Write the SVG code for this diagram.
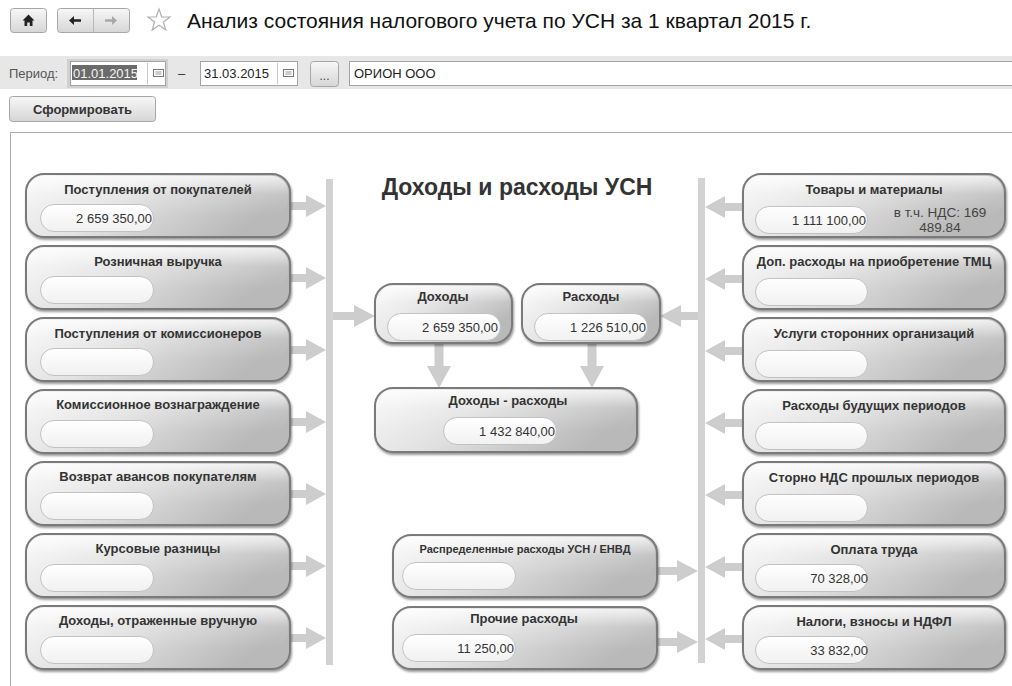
<svg xmlns="http://www.w3.org/2000/svg" width="1012" height="686" viewBox="0 0 1012 686">
<defs>
  <linearGradient id="gBox" x1="0" y1="0" x2="1" y2="0.35">
    <stop offset="0" stop-color="#f8f8f8"/>
    <stop offset="0.45" stop-color="#e2e2e2"/>
    <stop offset="0.85" stop-color="#c4c4c4"/>
    <stop offset="1" stop-color="#b9b9b9"/>
  </linearGradient>
  <linearGradient id="gGloss" x1="0" y1="0" x2="0" y2="1">
    <stop offset="0" stop-color="#ffffff" stop-opacity="0.75"/>
    <stop offset="0.45" stop-color="#ffffff" stop-opacity="0.15"/>
    <stop offset="1" stop-color="#ffffff" stop-opacity="0"/>
  </linearGradient>
  <linearGradient id="gField" x1="0" y1="0" x2="0" y2="1">
    <stop offset="0" stop-color="#ffffff"/>
    <stop offset="1" stop-color="#f1f1f1"/>
  </linearGradient>
  <linearGradient id="gBtn" x1="0" y1="0" x2="0" y2="1">
    <stop offset="0" stop-color="#f7f7f7"/>
    <stop offset="1" stop-color="#d6d6d6"/>
  </linearGradient>
  <filter id="sh" x="-5%" y="-10%" width="112%" height="135%">
    <feDropShadow dx="1" dy="2" stdDeviation="1.2" flood-color="#000" flood-opacity="0.4"/>
  </filter>
  <style>
    text { font-family: "Liberation Sans", Arial, sans-serif; }
    .box { fill: url(#gBox); stroke: #7a7a7a; stroke-width: 2; filter: url(#sh); }
    .gloss { fill: url(#gGloss); stroke: none; }
    .field { fill: url(#gField); stroke: #c2c2c2; stroke-width: 1; }
    .lbl { font-size: 13px; font-weight: bold; fill: #333; text-anchor: middle; }
    .val { font-size: 13px; fill: #333; text-anchor: end; }
    .note { font-size: 13.5px; fill: #444; text-anchor: middle; }
    .arr { fill: #cdcdcd; }
    .bar { fill: #d2d2d2; }
    .btn { fill: url(#gBtn); stroke: #a6a6a6; stroke-width: 1; }
    .inp { fill: #ffffff; stroke: #a4a4a4; stroke-width: 1; }
    .tb { font-size: 13px; fill: #222; }
  </style>
</defs>

<rect x="0" y="0" width="1012" height="686" fill="#ffffff"/>

<!-- header -->
<g id="header">
  <rect class="btn" x="10.5" y="8.5" width="36" height="24" rx="3"/>
  <path d="M22.5,20.5 L28.5,14.5 L34.5,20.5 H32.5 V26 H29.8 V22.5 H27.2 V26 H24.5 V20.5 Z" fill="#222"/>
  <rect class="btn" x="57.5" y="8.5" width="72" height="24" rx="3"/>
  <line x1="93.5" y1="9" x2="93.5" y2="32" stroke="#b8b8b8"/>
  <path d="M69,20.5 L74,16 V19.3 H81 V21.7 H74 V25 Z" fill="#222"/>
  <path d="M117,20.5 L112,16 V19.3 H105 V21.7 H112 V25 Z" fill="#a8a8a8"/>
  <path d="M159,9 L161.7,16.8 L170,17 L163.4,22 L165.8,30 L159,25.2 L152.2,30 L154.6,22 L148,17 L156.3,16.8 Z" fill="#ffffff" stroke="#b0b0b0" stroke-width="1.2"/>
  <text x="187" y="28" font-size="21" fill="#111">Анализ состояния налогового учета по УСН за 1 квартал 2015 г.</text>
</g>

<!-- toolbar -->
<g id="toolbar">
  <rect x="0" y="56" width="1012" height="33" fill="#e7e7e7"/>
  <text x="9" y="78" font-size="13" fill="#555">Период:</text>
  <rect x="67" y="59" width="101" height="29" fill="#d0d0d0"/>
  <rect class="inp" x="70.5" y="61.5" width="95" height="24"/>
  <rect x="72" y="65" width="65" height="15" fill="#6a6a6a"/>
  <text x="73" y="78" class="tb" style="fill:#f4f4f4">01.01.2015</text>
  <line x1="147.5" y1="63" x2="147.5" y2="84" stroke="#c8c8c8"/>
  <rect x="153.5" y="69.5" width="10" height="7" fill="#fff" stroke="#777"/>
  <path d="M155.5,72 h6 M155.5,74 h6" stroke="#999" stroke-width="1"/>
  <text x="178" y="78" font-size="13" fill="#333">–</text>
  <rect class="inp" x="200.5" y="61.5" width="97" height="24"/>
  <text x="204" y="78" class="tb">31.03.2015</text>
  <line x1="277.5" y1="63" x2="277.5" y2="84" stroke="#c8c8c8"/>
  <rect x="283.5" y="69.5" width="10" height="7" fill="#fff" stroke="#777"/>
  <path d="M285.5,72 h6 M285.5,74 h6" stroke="#999" stroke-width="1"/>
  <rect class="btn" x="310.5" y="61.5" width="28" height="25" rx="3"/>
  <text x="324.5" y="80" font-size="12" fill="#444" text-anchor="middle">...</text>
  <rect class="inp" x="349.5" y="61.5" width="680" height="24"/>
  <text x="354" y="78" class="tb">ОРИОН ООО</text>
  <rect class="btn" x="9.5" y="96.5" width="146" height="25" rx="3"/>
  <text x="82.5" y="114" font-size="13" font-weight="bold" fill="#333" text-anchor="middle">Сформировать</text>
</g>

<!-- panel -->
<path d="M10.5,690 V132.5 H1015" fill="none" stroke="#aaaaaa"/>

<text x="517" y="195" font-size="23" font-weight="bold" fill="#333" text-anchor="middle">Доходы и расходы УСН</text>

<!-- connectors -->
<g id="connectors">
  <rect class="bar" x="326" y="179" width="7" height="486"/>
  <rect class="bar" x="698" y="178" width="7" height="485"/>
  <!-- left inputs -> left bar -->
  <path class="arr" d="M290,202 H306 V195 L326,206 L306,217 V210 H290 Z"/>
  <path class="arr" d="M290,274 H306 V267 L326,278 L306,289 V282 H290 Z"/>
  <path class="arr" d="M290,346 H306 V339 L326,350 L306,361 V354 H290 Z"/>
  <path class="arr" d="M290,418 H306 V411 L326,422 L306,433 V426 H290 Z"/>
  <path class="arr" d="M290,490 H306 V483 L326,494 L306,505 V498 H290 Z"/>
  <path class="arr" d="M290,562 H306 V555 L326,566 L306,577 V570 H290 Z"/>
  <path class="arr" d="M290,634 H306 V627 L326,638 L306,649 V642 H290 Z"/>
  <!-- left bar -> Доходы -->
  <path class="arr" d="M333,312 H354 V305 L375,316 L354,327 V320 H333 Z"/>
  <!-- right inputs -> right bar -->
  <path class="arr" d="M743,203 H725 V196 L705,207 L725,218 V211 H743 Z"/>
  <path class="arr" d="M743,275 H725 V268 L705,279 L725,290 V283 H743 Z"/>
  <path class="arr" d="M743,347 H725 V340 L705,351 L725,362 V355 H743 Z"/>
  <path class="arr" d="M743,419 H725 V412 L705,423 L725,434 V427 H743 Z"/>
  <path class="arr" d="M743,491 H725 V484 L705,495 L725,506 V499 H743 Z"/>
  <path class="arr" d="M743,563 H725 V556 L705,567 L725,578 V571 H743 Z"/>
  <path class="arr" d="M743,635 H725 V628 L705,639 L725,650 V643 H743 Z"/>
  <!-- right bar -> Расходы -->
  <path class="arr" d="M698,312 H681 V305 L660,316 L681,327 V320 H698 Z"/>
  <!-- middle lower -> right bar -->
  <path class="arr" d="M657,567 H677 V560 L698,571 L677,582 V575 H657 Z"/>
  <path class="arr" d="M657,638 H677 V631 L698,642 L677,653 V646 H657 Z"/>
  <!-- down arrows -->
  <path class="arr" d="M434.5,343 V366 H427 L439,388 L451,366 H443.5 V343 Z"/>
  <path class="arr" d="M587.5,343 V366 H580 L592,388 L604,366 H596.5 V343 Z"/>
</g>

<!-- left nodes -->
<g id="n-postupleniya-pokupateli">
  <rect class="box" x="26" y="174" width="264" height="63" rx="18"/>
  <rect class="gloss" x="28" y="176" width="260" height="40" rx="16"/>
  <text class="lbl" x="158" y="194">Поступления от покупателей</text>
  <rect class="field" x="40.5" y="204.5" width="113" height="27" rx="13.5"/>
  <text class="val" x="152" y="222.5">2 659 350,00</text>
</g>
<g id="n-roznichnaya">
  <rect class="box" x="26" y="246" width="264" height="63" rx="18"/>
  <rect class="gloss" x="28" y="248" width="260" height="40" rx="16"/>
  <text class="lbl" x="158" y="266">Розничная выручка</text>
  <rect class="field" x="40.5" y="276.5" width="113" height="27" rx="13.5"/>
</g>
<g id="n-komissionery">
  <rect class="box" x="26" y="318" width="264" height="63" rx="18"/>
  <rect class="gloss" x="28" y="320" width="260" height="40" rx="16"/>
  <text class="lbl" x="158" y="338">Поступления от комиссионеров</text>
  <rect class="field" x="40.5" y="348.5" width="113" height="27" rx="13.5"/>
</g>
<g id="n-komissionnoe">
  <rect class="box" x="26" y="390" width="264" height="63" rx="18"/>
  <rect class="gloss" x="28" y="392" width="260" height="40" rx="16"/>
  <text class="lbl" x="158" y="409">Комиссионное вознаграждение</text>
  <rect class="field" x="40.5" y="420.5" width="113" height="27" rx="13.5"/>
</g>
<g id="n-vozvrat">
  <rect class="box" x="26" y="462" width="264" height="63" rx="18"/>
  <rect class="gloss" x="28" y="464" width="260" height="40" rx="16"/>
  <text class="lbl" x="158" y="481">Возврат авансов покупателям</text>
  <rect class="field" x="40.5" y="492.5" width="113" height="27" rx="13.5"/>
</g>
<g id="n-kursovye">
  <rect class="box" x="26" y="534" width="264" height="63" rx="18"/>
  <rect class="gloss" x="28" y="536" width="260" height="40" rx="16"/>
  <text class="lbl" x="158" y="553">Курсовые разницы</text>
  <rect class="field" x="40.5" y="564.5" width="113" height="27" rx="13.5"/>
</g>
<g id="n-vruchnuyu">
  <rect class="box" x="26" y="606" width="264" height="63" rx="18"/>
  <rect class="gloss" x="28" y="608" width="260" height="40" rx="16"/>
  <text class="lbl" x="158" y="625">Доходы, отраженные вручную</text>
  <rect class="field" x="40.5" y="636.5" width="113" height="27" rx="13.5"/>
</g>

<!-- center nodes -->
<g id="n-dohody">
  <rect class="box" x="375" y="284" width="137" height="59" rx="18"/>
  <rect class="gloss" x="377" y="286" width="133" height="36" rx="16"/>
  <text class="lbl" x="443" y="301">Доходы</text>
  <rect class="field" x="387.5" y="313.5" width="113" height="27" rx="13.5"/>
  <text class="val" x="498" y="331.5">2 659 350,00</text>
</g>
<g id="n-rashody">
  <rect class="box" x="522" y="284" width="138" height="59" rx="18"/>
  <rect class="gloss" x="524" y="286" width="134" height="36" rx="16"/>
  <text class="lbl" x="591" y="301">Расходы</text>
  <rect class="field" x="534.5" y="313.5" width="113" height="27" rx="13.5"/>
  <text class="val" x="646" y="331.5">1 226 510,00</text>
</g>
<g id="n-dohody-rashody">
  <rect class="box" x="375" y="388" width="262" height="64" rx="18"/>
  <rect class="gloss" x="377" y="390" width="258" height="40" rx="16"/>
  <text class="lbl" x="508" y="405">Доходы - расходы</text>
  <rect class="field" x="443.5" y="417.5" width="113" height="27" rx="13.5"/>
  <text class="val" x="555" y="435.5">1 432 840,00</text>
</g>
<g id="n-raspredelennye">
  <rect class="box" x="393" y="535" width="264" height="62" rx="18"/>
  <rect class="gloss" x="395" y="537" width="260" height="40" rx="16"/>
  <text class="lbl" x="525" y="553" style="font-size:11px" textLength="211" lengthAdjust="spacingAndGlyphs">Распределенные расходы УСН / ЕНВД</text>
  <rect class="field" x="402.5" y="562.5" width="113" height="27" rx="13.5"/>
</g>
<g id="n-prochie">
  <rect class="box" x="393" y="607" width="264" height="62" rx="18"/>
  <rect class="gloss" x="395" y="609" width="260" height="40" rx="16"/>
  <text class="lbl" x="524" y="623">Прочие расходы</text>
  <rect class="field" x="402.5" y="634.5" width="113" height="27" rx="13.5"/>
  <text class="val" x="514" y="652.5">11 250,00</text>
</g>

<!-- right nodes -->
<g id="n-tovary">
  <rect class="box" x="743" y="174" width="262" height="63" rx="18"/>
  <rect class="gloss" x="745" y="176" width="258" height="40" rx="16"/>
  <text class="lbl" x="874" y="194">Товары и материалы</text>
  <rect class="field" x="755.5" y="206.5" width="112" height="27" rx="13.5"/>
  <text class="val" x="866" y="224.5">1 111 100,00</text>
  <text class="note" x="940" y="217">в т.ч. НДС: 169</text>
  <text class="note" x="940" y="232">489.84</text>
</g>
<g id="n-dop-rashody">
  <rect class="box" x="743" y="246" width="262" height="63" rx="18"/>
  <rect class="gloss" x="745" y="248" width="258" height="40" rx="16"/>
  <text class="lbl" x="874" y="266">Доп. расходы на приобретение ТМЦ</text>
  <rect class="field" x="755.5" y="278.5" width="112" height="27" rx="13.5"/>
</g>
<g id="n-uslugi">
  <rect class="box" x="743" y="318" width="262" height="63" rx="18"/>
  <rect class="gloss" x="745" y="320" width="258" height="40" rx="16"/>
  <text class="lbl" x="874" y="338">Услуги сторонних организаций</text>
  <rect class="field" x="755.5" y="350.5" width="112" height="27" rx="13.5"/>
</g>
<g id="n-budushchie">
  <rect class="box" x="743" y="390" width="262" height="63" rx="18"/>
  <rect class="gloss" x="745" y="392" width="258" height="40" rx="16"/>
  <text class="lbl" x="874" y="410">Расходы будущих периодов</text>
  <rect class="field" x="755.5" y="422.5" width="112" height="27" rx="13.5"/>
</g>
<g id="n-storno">
  <rect class="box" x="743" y="462" width="262" height="63" rx="18"/>
  <rect class="gloss" x="745" y="464" width="258" height="40" rx="16"/>
  <text class="lbl" x="874" y="482">Сторно НДС прошлых периодов</text>
  <rect class="field" x="755.5" y="494.5" width="112" height="27" rx="13.5"/>
</g>
<g id="n-oplata">
  <rect class="box" x="743" y="534" width="262" height="63" rx="18"/>
  <rect class="gloss" x="745" y="536" width="258" height="40" rx="16"/>
  <text class="lbl" x="874" y="554">Оплата труда</text>
  <rect class="field" x="755.5" y="564.5" width="112" height="27" rx="13.5"/>
  <text class="val" x="868" y="582.5">70 328,00</text>
</g>
<g id="n-nalogi">
  <rect class="box" x="743" y="606" width="262" height="63" rx="18"/>
  <rect class="gloss" x="745" y="608" width="258" height="40" rx="16"/>
  <text class="lbl" x="874" y="626">Налоги, взносы и НДФЛ</text>
  <rect class="field" x="755.5" y="636.5" width="112" height="27" rx="13.5"/>
  <text class="val" x="868" y="654.5">33 832,00</text>
</g>
</svg>
